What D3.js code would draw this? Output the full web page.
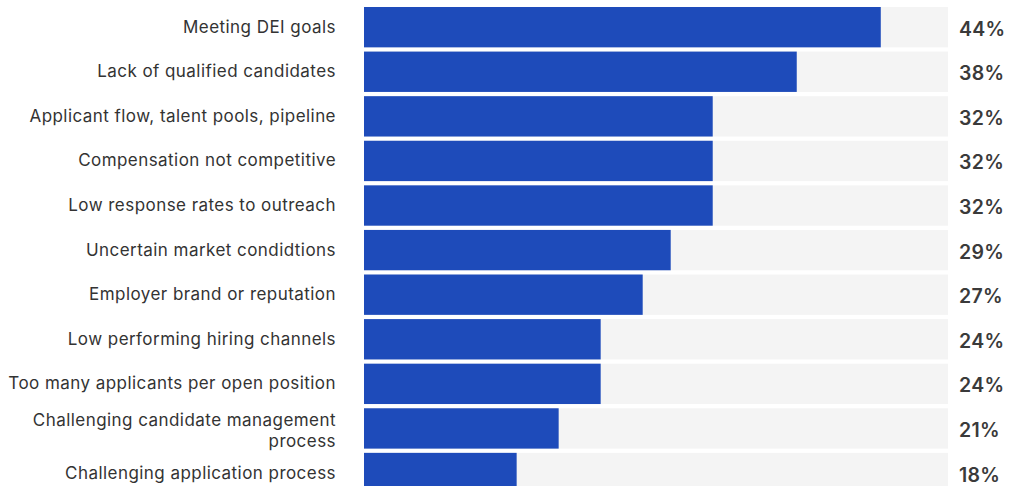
<!DOCTYPE html>
<html>
<head>
<meta charset="utf-8">
<script src="https://cdn.jsdelivr.net/npm/d3@7"></script>
<style>
  html, body { margin: 0; padding: 0; background: #ffffff; }
  svg { display: block; font-family: Inter, "Noto Sans", sans-serif; }
</style>
</head>
<body>
<svg id="chart" width="1018" height="486"></svg>
<script>
// Reported hiring challenges (share of respondents, %)
const categories = [
  "Meeting DEI goals",
  "Lack of qualified candidates",
  "Applicant flow, talent pools, pipeline",
  "Compensation not competitive",
  "Low response rates to outreach",
  "Uncertain market condidtions",
  "Employer brand or reputation",
  "Low performing hiring channels",
  "Too many applicants per open position",
  "Challenging candidate management process",
  "Challenging application process"
];
const values = [44, 38, 32, 32, 32, 29, 27, 24, 24, 21, 18];

// Wrapped lines for long category names
const labelLines = {
  "Challenging candidate management process": ["Challenging candidate management", "process"]
};

const svg = d3.select("#chart");

const x = d3.scaleLinear().domain([7.1, 48.8]).range([364, 948]);
const y = d3.scaleBand()
  .domain(categories)
  .range([7, 7 + 44.2 * categories.length])
  .paddingInner(4.2 / 44.2)
  .paddingOuter(0);

const rows = svg.selectAll("g.row")
  .data(categories.map((c, i) => ({ category: c, value: values[i] })))
  .join("g")
  .attr("class", "row");

// Background track
rows.append("rect")
  .attr("x", x.range()[0])
  .attr("y", d => y(d.category))
  .attr("width", x.range()[1] - x.range()[0])
  .attr("height", y.bandwidth())
  .attr("fill", "#f4f4f4");

// Value bar
rows.append("rect")
  .attr("x", x.range()[0])
  .attr("y", d => y(d.category))
  .attr("width", d => x(d.value) - x.range()[0])
  .attr("height", y.bandwidth())
  .attr("fill", "#1e4bba");

// Category labels
rows.append("text")
  .attr("x", 336)
  .attr("y", d => y(d.category) + y.bandwidth() / 2)
  .attr("text-anchor", "end")
  .attr("fill", "#333333")
  .attr("font-size", 17)
  .attr("letter-spacing", 0.45)
  .each(function(d) {
    const lines = labelLines[d.category] || [d.category];
    const lh = 21.5;
    const start = lines.length > 1 ? -2.5 : 5.5;
    d3.select(this).selectAll("tspan")
      .data(lines)
      .join("tspan")
      .attr("x", 336)
      .attr("dy", (l, i) => i === 0 ? start : lh)
      .text(l => l);
  });

// Value labels
rows.append("text")
  .attr("x", 959)
  .attr("y", d => y(d.category) + y.bandwidth() / 2 + 8.5)
  .attr("fill", "#3a3a3a")
  .attr("font-size", 19.5)
  .attr("font-weight", 600)
  .attr("letter-spacing", 0.3)
  .text(d => d.value + "%");
</script>
</body>
</html>
